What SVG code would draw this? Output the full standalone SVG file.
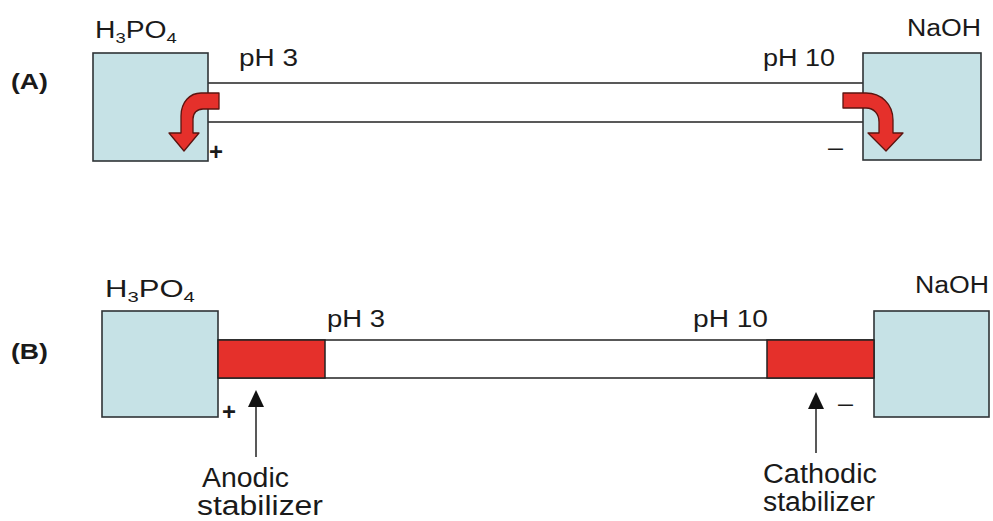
<svg xmlns="http://www.w3.org/2000/svg" width="993" height="521" viewBox="0 0 993 521">
  <style>
    .box { fill: #c6e2e6; stroke: #2f3436; stroke-width: 1.6; }
    .tube { stroke: #222; stroke-width: 1.5; fill: none; }
    .tubefill { fill: #ffffff; stroke: #222; stroke-width: 1.5; }
    .stab { fill: #e5302b; stroke: #222; stroke-width: 1.5; }
    .flow { fill: #e5302b; stroke: #5a1410; stroke-width: 1.3; stroke-linejoin: round; }
    .ptr { stroke: #222; stroke-width: 1.5; fill: none; marker-end: url(#head); }
    text { font-family: "Liberation Sans", Arial, sans-serif; fill: #1a1a1a; }
    .lbl { font-size: 23px; }
    .big { font-size: 27px; }
    .panel { font-size: 22px; font-weight: bold; }
    .sign { font-size: 24px; font-weight: bold; }
  </style>
  <defs>
    <marker id="head" viewBox="0 0 17 16" refX="0" refY="8" markerWidth="17" markerHeight="16" markerUnits="userSpaceOnUse" orient="auto">
      <path d="M0,0 L17,8 L0,16 Z" fill="#111"/>
    </marker>
  </defs>

  <!-- Panel A -->
  <g id="labelA">
    <text class="panel" x="11" y="89" textLength="37" lengthAdjust="spacingAndGlyphs">(A)</text>
  </g>
  <g id="tubeA">
    <line class="tube" x1="208" y1="83" x2="863" y2="83"/>
    <line class="tube" x1="208" y1="122" x2="863" y2="122"/>
  </g>
  <g id="acidA">
    <rect class="box" x="93" y="53" width="115" height="108"/>
    <text class="lbl" transform="translate(95,38) scale(1.23,1)">H<tspan font-size="15" dy="5">3</tspan><tspan dy="-5">PO</tspan><tspan font-size="15" dy="5">4</tspan></text>
    <text class="lbl" x="239" y="66" textLength="59" lengthAdjust="spacingAndGlyphs">pH 3</text>
    <text class="sign" x="209" y="160" textLength="14" lengthAdjust="spacingAndGlyphs">+</text>
  </g>
  <g id="baseA">
    <rect class="box" x="863" y="53" width="118" height="107"/>
    <text class="lbl" x="907" y="36" textLength="74" lengthAdjust="spacingAndGlyphs">NaOH</text>
    <text class="lbl" x="763" y="66" textLength="72" lengthAdjust="spacingAndGlyphs">pH 10</text>
    <text class="lbl" x="828" y="155" textLength="15" lengthAdjust="spacingAndGlyphs">–</text>
  </g>
  <g id="flowA">
    <path class="flow" d="M219,93 L201,93 C190,93 181,102 181,116 L181,133 L169,133 L184,151 L199,133 L193,133 L193,119 C193,113 197,109 203,109 L219,109 Z"/>
    <path class="flow" d="M843,93 L866,93 C881,93 893,104 893,120 L893,133 L903,133 L886,151 L868,133 L879,133 L879,122 C879,114 874,108 866,108 L843,108 Z"/>
  </g>

  <!-- Panel B -->
  <g id="labelB">
    <text class="panel" x="11" y="359" textLength="37" lengthAdjust="spacingAndGlyphs">(B)</text>
  </g>
  <g id="tubeB">
    <rect class="tubefill" x="218" y="340" width="656" height="38"/>
  </g>
  <g id="acidB">
    <rect class="box" x="102" y="311" width="116" height="106"/>
    <text class="lbl" transform="translate(105,297) scale(1.35,1)">H<tspan font-size="15" dy="5">3</tspan><tspan dy="-5">PO</tspan><tspan font-size="15" dy="5">4</tspan></text>
    <text class="lbl" x="327" y="327" textLength="58" lengthAdjust="spacingAndGlyphs">pH 3</text>
    <text class="sign" x="222" y="420" textLength="14" lengthAdjust="spacingAndGlyphs">+</text>
  </g>
  <g id="baseB">
    <rect class="box" x="874" y="311" width="115" height="106"/>
    <text class="lbl" x="915" y="293" textLength="74" lengthAdjust="spacingAndGlyphs">NaOH</text>
    <text class="lbl" x="693" y="327" textLength="75" lengthAdjust="spacingAndGlyphs">pH 10</text>
    <text class="lbl" x="838" y="411" textLength="15" lengthAdjust="spacingAndGlyphs">–</text>
  </g>
  <g id="anodicStabilizer">
    <rect class="stab" x="218" y="340" width="107" height="38"/>
    <text class="big" x="202" y="487" textLength="87" lengthAdjust="spacingAndGlyphs">Anodic</text>
    <text class="big" x="197" y="515" textLength="126" lengthAdjust="spacingAndGlyphs">stabilizer</text>
  </g>
  <g id="cathodicStabilizer">
    <rect class="stab" x="767" y="340" width="107" height="38"/>
    <text class="big" x="763" y="483" textLength="114" lengthAdjust="spacingAndGlyphs">Cathodic</text>
    <text class="big" x="763" y="511" textLength="112" lengthAdjust="spacingAndGlyphs">stabilizer</text>
  </g>

  <g id="connectors">
    <line class="ptr" x1="256" y1="457" x2="256" y2="407"/>
    <line class="ptr" x1="816" y1="453" x2="816" y2="409"/>
  </g>
</svg>
